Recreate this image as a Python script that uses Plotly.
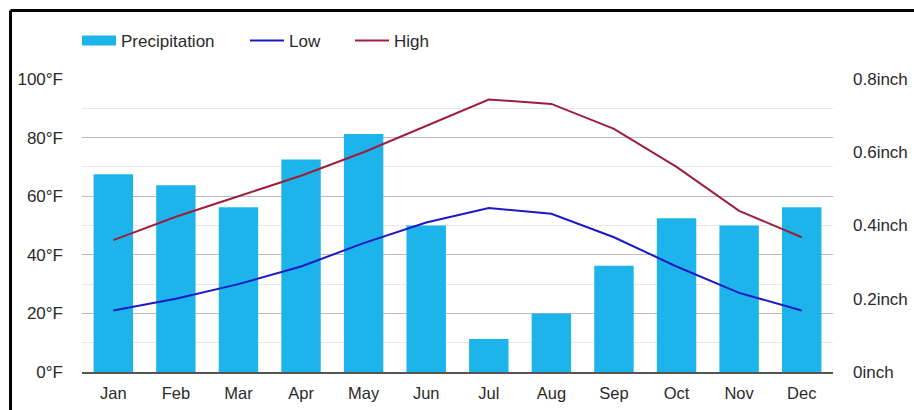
import plotly.graph_objects as go

months = ["Jan", "Feb", "Mar", "Apr", "May", "Jun", "Jul", "Aug", "Sep", "Oct", "Nov", "Dec"]
precip_in = [0.54, 0.51, 0.45, 0.58, 0.65, 0.40, 0.09, 0.16, 0.29, 0.42, 0.40, 0.45]
low_f = [21, 25, 30, 36, 44, 51, 56, 54, 46, 36, 27, 21]
high_f = [45, 53, 60, 67, 75, 84, 93, 91.5, 83, 70, 55, 46]

temp_ticks = [0, 20, 40, 60, 80, 100]
temp_labels = [f"{t}°F" for t in temp_ticks]
rain_ticks = [0, 0.2, 0.4, 0.6, 0.8]
rain_labels = ["0inch", "0.2inch", "0.4inch", "0.6inch", "0.8inch"]

W, H = 914, 410
L, R, T, B = 82, 81, 79, 38
pw, ph = W - L - R, H - T - B

BAR_COLOR = "#1db4ec"
LOW_COLOR = "#1a1ac4"
HIGH_COLOR = "#9e1f3d"
TEXT_COLOR = "#2a2a2a"


def px_to_paper_x(px):
    return (px - L) / pw


def px_to_paper_y(py):
    return (H - B - py) / ph


fig = go.Figure()
# Bars sit on the primary (right-hand, inch) axis so the temperature
# lines on the overlaid axis are drawn on top of them.
fig.add_trace(go.Bar(x=months, y=precip_in, name="Precipitation", yaxis="y",
                     marker=dict(color=BAR_COLOR, line=dict(width=0)),
                     showlegend=False))
# Legend-only entry giving the precipitation swatch a wide block shape
fig.add_trace(go.Scatter(x=[None], y=[None], name="Precipitation", mode="lines",
                         yaxis="y2", line=dict(color=BAR_COLOR, width=17),
                         legend="legend", hoverinfo="skip"))
fig.add_trace(go.Scatter(x=months, y=low_f, name="Low", mode="lines", yaxis="y2",
                         line=dict(color=LOW_COLOR, width=2), legend="legend2"))
fig.add_trace(go.Scatter(x=months, y=high_f, name="High", mode="lines", yaxis="y2",
                         line=dict(color=HIGH_COLOR, width=2), legend="legend3"))

font = dict(family="Liberation Sans, Arial, sans-serif", size=17, color=TEXT_COLOR)
legend_common = dict(orientation="h", xanchor="left", yanchor="middle",
                     y=px_to_paper_y(41), itemwidth=34,
                     font=dict(size=17, color=TEXT_COLOR), bgcolor="rgba(0,0,0,0)")

fig.update_layout(
    width=W, height=H,
    margin=dict(l=L, r=R, t=T, b=B, pad=0, autoexpand=False),
    paper_bgcolor="white", plot_bgcolor="white",
    font=font,
    bargap=0.37,
    showlegend=True,
    legend=dict(x=px_to_paper_x(77), **legend_common),
    legend2=dict(x=px_to_paper_x(245), **legend_common),
    legend3=dict(x=px_to_paper_x(350), **legend_common),
    xaxis=dict(type="category", showgrid=False, ticks="", automargin=False,
               showline=True, linecolor="#555555", linewidth=1.5,
               ticklabelstandoff=5,
               tickfont=dict(size=16.5, color=TEXT_COLOR)),
    yaxis=dict(range=[0, 0.8], tickvals=rain_ticks, ticktext=rain_labels,
               side="right", showgrid=False, zeroline=False, automargin=False,
               ticks="", ticklabelstandoff=19,
               tickfont=dict(size=17, color=TEXT_COLOR)),
    yaxis2=dict(range=[0, 100], tickvals=temp_ticks, ticktext=temp_labels,
                overlaying="y", side="left", automargin=False,
                showgrid=True, gridcolor="#bdbdbd", gridwidth=1,
                minor=dict(dtick=10, showgrid=True, gridcolor="#e8e8e8", gridwidth=1),
                zeroline=False, ticks="", ticklabelstandoff=18,
                tickfont=dict(size=17, color=TEXT_COLOR)),
    shapes=[
        dict(type="line", xref="paper", yref="paper",
             x0=px_to_paper_x(10.5), x1=px_to_paper_x(W + 5),
             y0=px_to_paper_y(10.5), y1=px_to_paper_y(10.5),
             line=dict(color="black", width=3)),
        dict(type="line", xref="paper", yref="paper",
             x0=px_to_paper_x(10.5), x1=px_to_paper_x(10.5),
             y0=px_to_paper_y(10.5), y1=px_to_paper_y(H + 5),
             line=dict(color="black", width=3)),
    ],
)

fig.write_html("out.html")
